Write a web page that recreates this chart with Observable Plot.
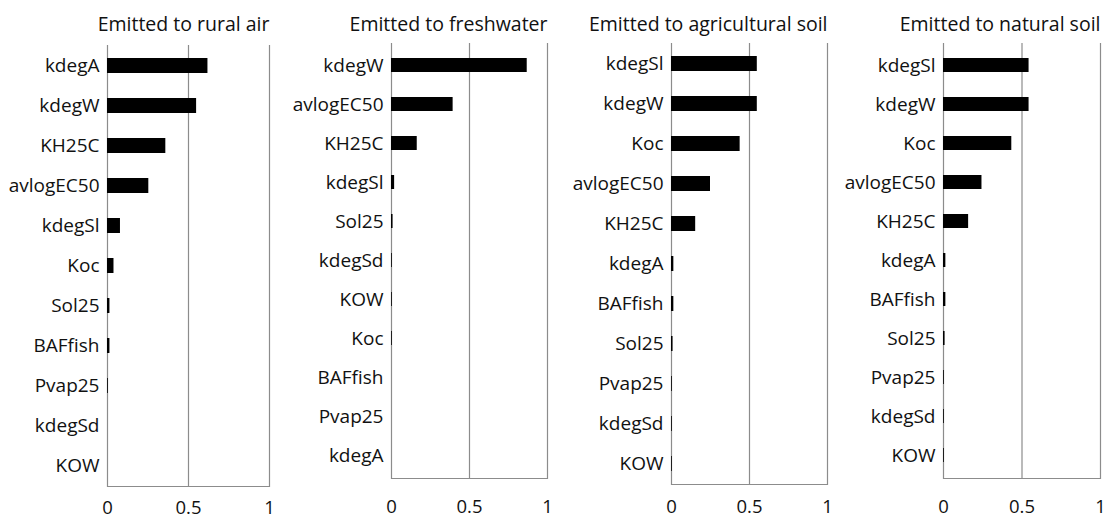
<!DOCTYPE html>
<html>
<head>
<meta charset="utf-8">
<script src="https://cdn.jsdelivr.net/npm/d3@7"></script>
<script src="https://cdn.jsdelivr.net/npm/@observablehq/plot@0.6"></script>
<style>
  html, body { margin: 0; padding: 0; background: #fff; }
  #wrap { position: relative; width: 1105px; height: 518px; overflow: hidden; }
  .panel { position: absolute; top: 0; }
</style>
</head>
<body>
<div id="wrap"></div>
<script>
const titles = ["Emitted to rural air", "Emitted to freshwater", "Emitted to agricultural soil", "Emitted to natural soil"];

const ruralAirParams = ["kdegA", "kdegW", "KH25C", "avlogEC50", "kdegSl", "Koc", "Sol25", "BAFfish", "Pvap25", "kdegSd", "KOW"];
const ruralAirValues = [0.62, 0.55, 0.36, 0.255, 0.08, 0.04, 0.015, 0.015, 0.005, 0, 0];

const freshwaterParams = ["kdegW", "avlogEC50", "KH25C", "kdegSl", "Sol25", "kdegSd", "KOW", "Koc", "BAFfish", "Pvap25", "kdegA"];
const freshwaterValues = [0.87, 0.395, 0.165, 0.02, 0.01, 0.005, 0.005, 0.005, 0, 0, 0];

const agriSoilParams = ["kdegSl", "kdegW", "Koc", "avlogEC50", "KH25C", "kdegA", "BAFfish", "Sol25", "Pvap25", "kdegSd", "KOW"];
const agriSoilValues = [0.55, 0.55, 0.44, 0.25, 0.155, 0.015, 0.015, 0.01, 0.005, 0.005, 0.005];

const natSoilParams = ["kdegSl", "kdegW", "Koc", "avlogEC50", "KH25C", "kdegA", "BAFfish", "Sol25", "Pvap25", "kdegSd", "KOW"];
const natSoilValues = [0.545, 0.545, 0.435, 0.245, 0.16, 0.015, 0.015, 0.01, 0.005, 0.005, 0.005];

const xTicks = [0, 0.5, 1];

const panels = [
  {params: ruralAirParams, values: ruralAirValues, left: 0,   x0: 107, x1: 269,  top: 45, bottom: 486, tickY: 506},
  {params: freshwaterParams, values: freshwaterValues, left: 275, x0: 391, x1: 547, top: 43, bottom: 478, tickY: 505},
  {params: agriSoilParams, values: agriSoilValues, left: 555, x0: 671, x1: 827, top: 43, bottom: 484, tickY: 505},
  {params: natSoilParams, values: natSoilValues, left: 835, x0: 943, x1: 1100, top: 43, bottom: 478, tickY: 505}
];

const H = 518;
const wrap = document.getElementById("wrap");
const gridColor = "#8c8c8c";
const textColor = "#111";

panels.forEach((p, i) => {
  const data = p.params.map((name, j) => ({name, value: p.values[j]}));
  const mr = i === 3 ? 5 : 8;
  const width = p.x1 - p.left + mr;
  const chart = Plot.plot({
    width,
    height: H,
    marginLeft: p.x0 - p.left,
    marginRight: mr,
    marginTop: p.top,
    marginBottom: H - p.bottom,
    style: {fontFamily: "'Open Sans', sans-serif", fontSize: "19px", color: textColor, overflow: "visible", background: "transparent"},
    x: {domain: [0, 1]},
    y: {domain: p.params, paddingInner: 0.63, paddingOuter: 0.315, align: 0.5},
    marks: [
      Plot.ruleX(xTicks, {stroke: gridColor, strokeWidth: 1.2}),
      Plot.frame({anchor: "bottom", stroke: gridColor, strokeWidth: 1.2}),
      Plot.barX(data, {x: "value", y: "name", fill: "black"}),
      Plot.axisY({tickSize: 0, tickPadding: 8, fontSize: 19, label: null}),
      Plot.axisX(xTicks, {tickSize: 0, tickPadding: p.tickY - p.bottom - 6, fontSize: 18.5, label: null, tickFormat: d => String(d)}),
      Plot.text([titles[i]], {frameAnchor: "top-right", textAnchor: "end", lineAnchor: "middle", dy: -(p.top - 24), fontSize: 19.5, fill: textColor})
    ]
  });
  chart.classList.add("panel");
  chart.style.left = p.left + "px";
  wrap.appendChild(chart);
});
</script>
</body>
</html>
